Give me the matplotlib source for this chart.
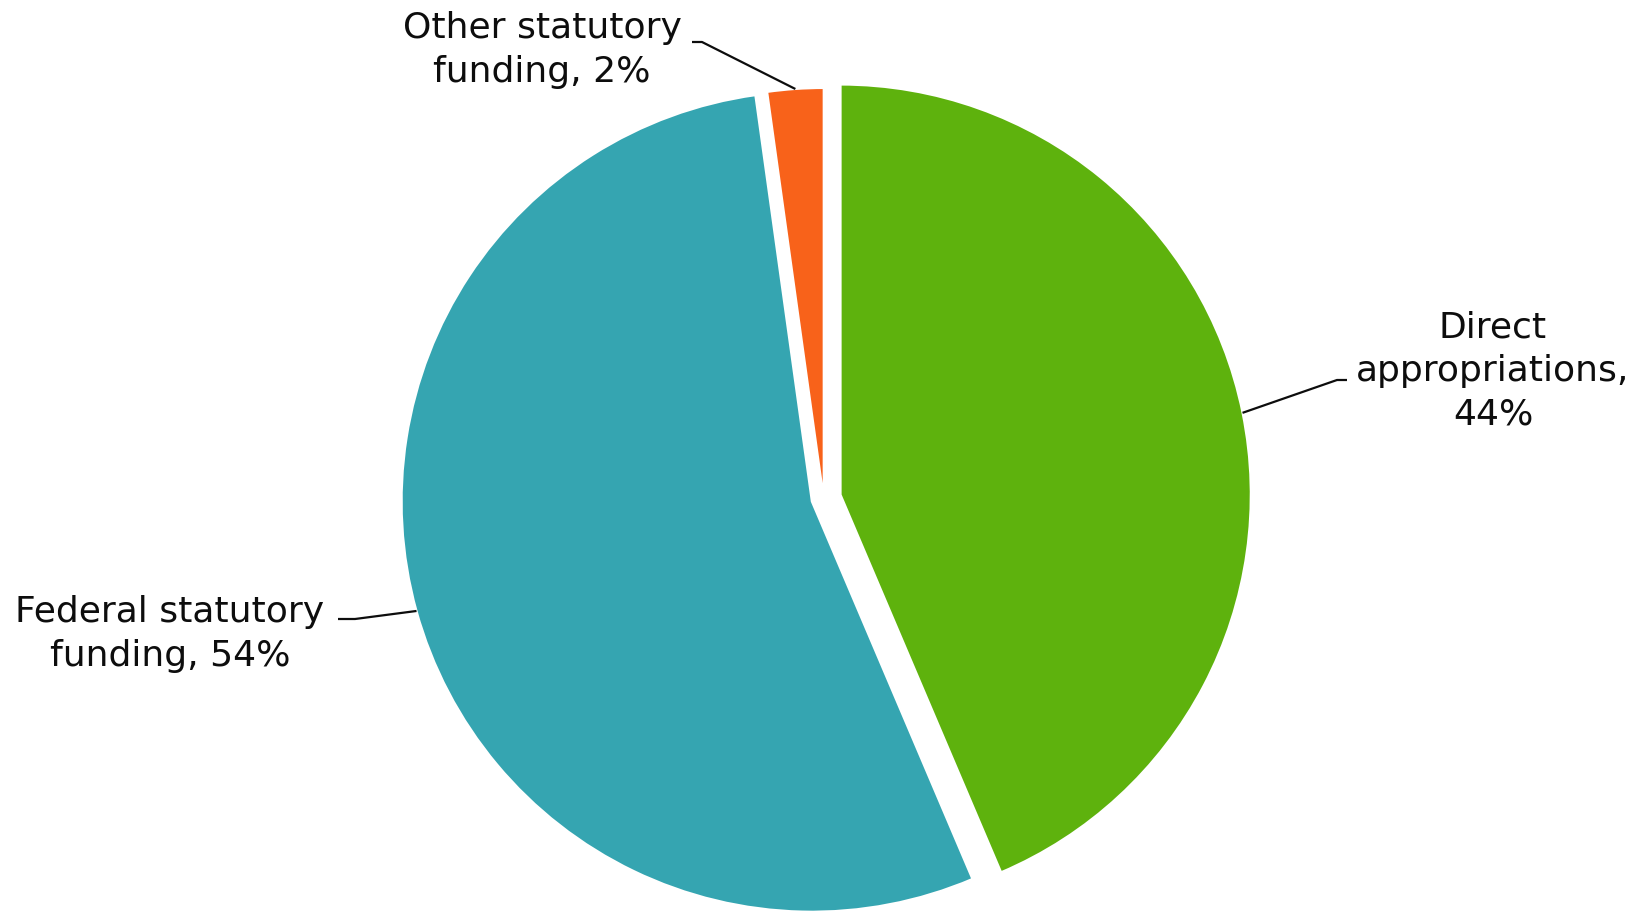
import matplotlib
matplotlib.use("Agg")
import matplotlib.pyplot as plt
import numpy as np

# data
names = ["Direct\nappropriations", "Federal statutory\nfunding", "Other statutory\nfunding"]
shares = [43.6, 54.2, 2.2]
colors = ["#5EB20D", "#35A5B1", "#F8621A"]
explode = [0.042, 0.030, 0.0]

# layout (pixels of the 1645x912 canvas)
W, H = 1645, 912
CX, CY, R = 823.7, 499.2, 410.2
FONTSIZE = 26
TEXT_COLOR = "#0D0D0D"

# label centre, elbow point, horizontal stub end (pixels)
label_pos = [(1493, 371), (170, 634), (542, 50)]
elbows = [(1337, 381), (355, 620), (702, 43)]
stubs = [(1347, 381), (338, 620), (692, 43)]


def px(x, y):
    """Pixel position -> data units (pie radius = 1)."""
    return (x - CX) / R, (CY - y) / R


fig = plt.figure(figsize=(W / 100, H / 100), dpi=100)
ax = fig.add_axes([0, 0, 1, 1])

wedges, _ = ax.pie(shares, colors=colors, startangle=90, counterclock=False,
                   explode=explode, radius=1,
                   wedgeprops=dict(edgecolor="white", linewidth=1.5))

ax.set_xlim(px(0, 0)[0], px(W, 0)[0])
ax.set_ylim(px(0, H)[1], px(0, 0)[1])
ax.set_aspect("equal")
ax.axis("off")

labels = [f"{n},\n{v:.0f}%" if n.startswith("Direct") else f"{n}, {v:.0f}%"
          for n, v in zip(names, shares)]

for w, lab, pos, elb, stub in zip(wedges, labels, label_pos, elbows, stubs):
    mid = np.deg2rad((w.theta1 + w.theta2) / 2)
    cx, cy = w.center
    edge = (cx + w.r * np.cos(mid), cy + w.r * np.sin(mid))
    ex, ey = px(*elb)
    sx, sy = px(*stub)
    ax.plot([edge[0], ex, sx], [edge[1], ey, sy], color=TEXT_COLOR, lw=1.6,
            solid_capstyle="butt")
    tx, ty = px(*pos)
    ax.text(tx, ty, lab, ha="center", va="center", fontsize=FONTSIZE,
            color=TEXT_COLOR, linespacing=1.35)

fig.savefig("out.png", dpi=100)
